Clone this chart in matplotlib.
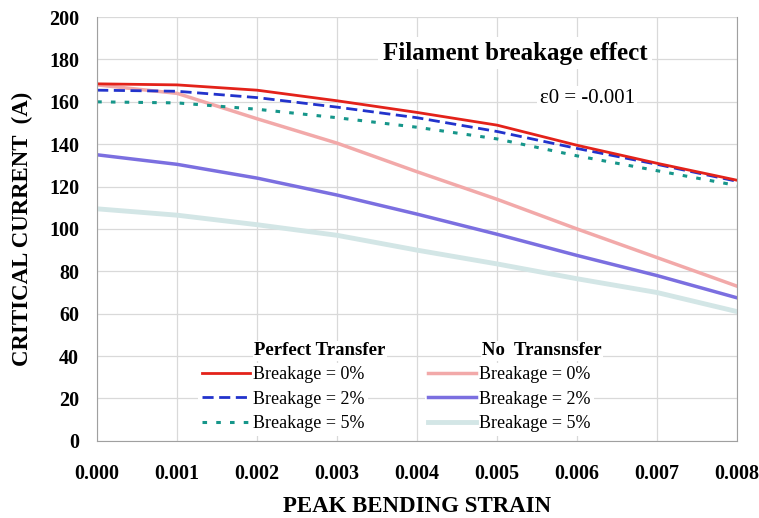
import matplotlib
matplotlib.use("Agg")
import matplotlib.pyplot as plt
from matplotlib.lines import Line2D

strain = [0.000, 0.001, 0.002, 0.003, 0.004, 0.005, 0.006, 0.007, 0.008]

# perfect transfer
pt_0 = [168.5, 168, 165.5, 160.5, 155, 149, 139.5, 131, 123]
pt_2 = [165.5, 165, 162, 157.5, 152.5, 146, 138, 130.5, 122.5]
pt_5 = [160, 159.5, 156.5, 152.5, 148, 142.5, 134.5, 127.5, 120.5]
# no transfer
nt_0 = [168, 164, 152, 140.5, 127, 114, 100, 86.5, 73]
nt_2 = [135, 130.5, 124, 116, 107, 97.5, 87.5, 78, 67.5]
nt_5 = [109.5, 106.5, 102, 97, 90, 83.5, 76.5, 70, 61]

labels = ["Breakage = 0%", "Breakage = 2%", "Breakage = 5%"]

plt.rcParams['font.family'] = ['Liberation Serif', 'DejaVu Serif']

red, blue, teal = '#e3221a', '#2233cc', '#16968a'
pink, purple, pale = '#f2a9a9', '#7b6fe0', '#d3e6e6'
dash_blue = (0, (4, 2))
dot_teal = (0, (1.5, 3))

fig = plt.figure(figsize=(7.59, 5.18), dpi=100)
ax = fig.add_axes([0.128, 0.149, 0.843, 0.818])

ax.plot(strain, nt_5, color=pale, lw=3.5)
ax.plot(strain, nt_2, color=purple, lw=2.5)
ax.plot(strain, nt_0, color=pink, lw=2.5)
ax.plot(strain, pt_5, color=teal, lw=2.2, ls=dot_teal)
ax.plot(strain, pt_2, color=blue, lw=2.0, ls=dash_blue)
ax.plot(strain, pt_0, color=red, lw=2.0)

ax.set_xlim(0, 0.008)
ax.set_ylim(0, 200)
ax.set_xticks(strain)
ax.set_xticklabels([f"{v:.3f}" for v in strain])
ax.set_yticks(range(0, 201, 20))
ax.tick_params(axis='x', length=0, pad=17, labelsize=14.5)
ax.tick_params(axis='y', length=0, pad=13, labelsize=14.5)
for lab in ax.get_xticklabels() + ax.get_yticklabels():
    lab.set_fontweight('bold')
ax.grid(True, color='#d9d9d9', lw=0.9)
ax.set_axisbelow(True)
for s in ax.spines.values():
    s.set_color('#a0a0a0')
ax.spines['top'].set_visible(False)

ax.set_xlabel("PEAK BENDING STRAIN", fontsize=16.5, fontweight='bold')
ax.set_ylabel("CRITICAL CURRENT  (A)", fontsize=16.5, fontweight='bold')
ax.xaxis.set_label_coords(0.5, -0.13)
ax.yaxis.set_label_coords(-0.100, 0.5)

ax.text(0.653, 0.915, "Filament breakage effect", transform=ax.transAxes,
        fontsize=18, fontweight='bold', ha='center', va='center',
        bbox=dict(facecolor='white', edgecolor='none', pad=3))
ax.text(0.766, 0.809, "\u03b50 = -0.001", transform=ax.transAxes,
        fontsize=15, ha='center', va='center',
        bbox=dict(facecolor='white', edgecolor='none', pad=2))

h1 = [Line2D([], [], color=red, lw=2.0),
      Line2D([], [], color=blue, lw=2.0, ls=dash_blue),
      Line2D([], [], color=teal, lw=2.2, ls=dot_teal)]
h2 = [Line2D([], [], color=pink, lw=2.5),
      Line2D([], [], color=purple, lw=2.5),
      Line2D([], [], color=pale, lw=3.5)]

leg_kw = dict(loc='upper left', frameon=True, facecolor='white', edgecolor='none',
              framealpha=1, fontsize=13, handlelength=2.65, handletextpad=0.17,
              labelspacing=0.4, borderpad=0.2, borderaxespad=0)
leg1 = ax.legend(h1, labels, bbox_to_anchor=(0.158, 0.184), **leg_kw)
ax.add_artist(leg1)
ax.legend(h2, labels, bbox_to_anchor=(0.512, 0.184), **leg_kw)

ax.text(0.245, 0.212, "Perfect Transfer", transform=ax.transAxes,
        fontsize=13.5, fontweight='bold', ha='left', va='center',
        bbox=dict(facecolor='white', edgecolor='none', pad=1))
ax.text(0.602, 0.212, "No  Transnsfer", transform=ax.transAxes,
        fontsize=13.5, fontweight='bold', ha='left', va='center',
        bbox=dict(facecolor='white', edgecolor='none', pad=1))

fig.savefig("out.png", dpi=100)
